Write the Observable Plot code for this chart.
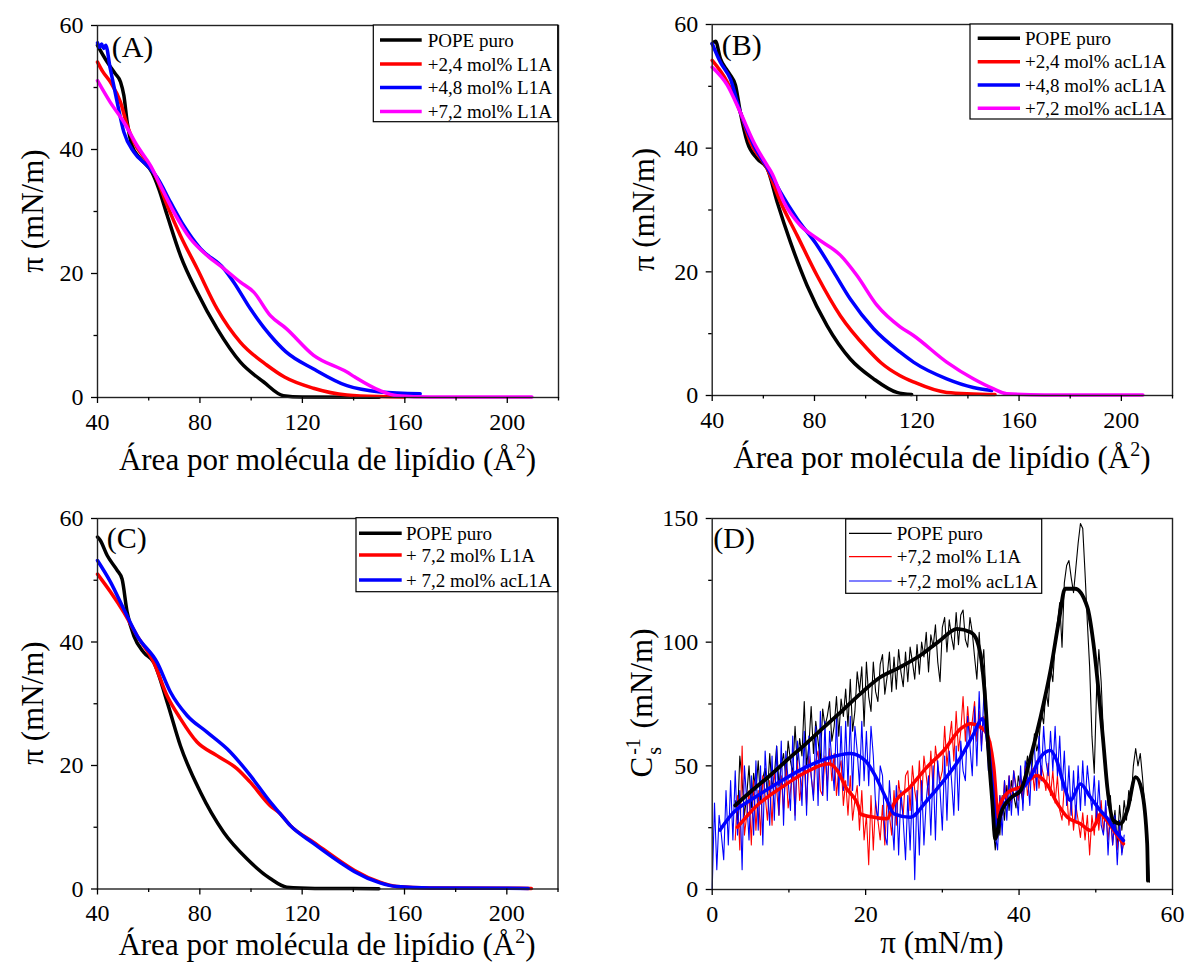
<!DOCTYPE html>
<html><head><meta charset="utf-8">
<script src="https://cdn.jsdelivr.net/npm/d3@7"></script>
<script src="https://cdn.jsdelivr.net/npm/@observablehq/plot@0.6"></script>
<style>
body{margin:0;background:#fff;}
#root{position:relative;width:1185px;height:964px;}
</style></head><body><div id="root"></div>
<script>
// ---------- Panel A : isotherms, L1A ----------
const A_pope = [[40,56.8],[43.8,54.1],[47,52.2],[49,50.9],[50.3,48.7],[51.6,44.4],[53.5,40.6],[56.8,38.5],[61.3,36.3],[63.9,33.7],[67.2,29.4],[72.4,22.9],[78.9,17],[86.7,11.1],[95.8,5.7],[104.9,2.5],[112.6,0.3],[120,0.1],[150,0.05]];
const A_l1a24 = [[40,54.1],[42,52.6],[45,50.9],[49,47.6],[51.6,43.9],[54.2,41.2],[59.4,38],[62.6,35.8],[67.2,31],[72.4,26.1],[78.9,20.8],[86.7,14.3],[95.8,8.9],[106.2,5.2],[113,3.3],[124.3,1.5],[137.4,0.4],[150,0.15],[160,0.1]];
const A_l1a48 = [[40,57.2],[40.8,56.5],[41.6,57],[42.4,56.3],[43.2,56.8],[45,53],[47.7,47.6],[50.3,42.8],[54.2,39.6],[59.4,37.4],[63.3,35.5],[68.5,31.5],[73.7,27.7],[80.2,24],[89.3,20.8],[93.2,18.6],[99.7,14.3],[107.5,10],[113.5,7.4],[124.4,4.6],[137.4,1.9],[150.4,0.9],[166,0.6]];
const A_l1a72 = [[40,51.1],[45,47.6],[50.3,44.4],[55.5,40.6],[60.7,37.4],[64.6,34.2],[69.8,29.9],[76.3,25.6],[82.8,22.9],[89.3,20.8],[95.8,18.6],[101,17],[107.5,13.2],[113.5,11.2],[124.4,6.8],[137.4,4.1],[140.5,3.3],[150.4,1.1],[157,0.3],[170,0.1],[209.6,0.1]];
const A_labels = ["POPE puro","+2,4 mol% L1A","+4,8 mol% L1A","+7,2 mol% L1A"];

// ---------- Panel B : isotherms, acL1A ----------
const B_pope = [[40,56.9],[41.3,57.3],[43.2,54.5],[45.5,52.8],[47.1,51.8],[49.1,50.2],[51,45.8],[53.7,41],[57.6,38.3],[61.5,36.7],[65.4,31.3],[70.6,24.8],[77.1,17.8],[84.9,11.3],[94,5.9],[103.1,2.7],[112.2,0.5],[118,0.15]];
const B_ac24 = [[40,54.2],[45.9,50.7],[51,45.8],[54.9,41],[61.5,36.7],[66.7,31.3],[73.2,25.9],[81,19.4],[90.1,12.9],[100.5,7.6],[106,5.3],[113.5,3.2],[118.7,2.2],[131.7,0.5],[150.6,0.15]];
const B_ac48 = [[40,56.9],[43.2,53.9],[47.1,51.2],[51,45.8],[56.2,40.5],[61.5,36.9],[66.7,32.9],[73.2,28.6],[81,24.3],[87.5,20],[94,15.6],[103.1,10.8],[113.5,7],[118.7,5.4],[131.7,2.7],[142.1,1.3],[149.3,0.8]];
const B_ac72 = [[40,53.1],[45.9,50.2],[51,45.8],[56.2,41],[61.5,37.2],[63.4,35.9],[68,31.3],[74.5,27.5],[81,25.4],[90.1,22.7],[96.6,19.4],[104.4,14.6],[113.5,11.1],[118.7,9.7],[131.7,5.4],[142.1,2.7],[149.9,1.1],[155.1,0.3],[170,0.1],[208.4,0.1]];
const B_labels = ["POPE puro","+2,4 mol% acL1A","+4,8 mol% acL1A","+7,2 mol% acL1A"];

// ---------- Panel C : comparison ----------
const C_pope = [[40,57],[41,56.5],[43.8,54],[47.7,51.6],[49.6,50.2],[51.6,44.8],[54.2,41],[58.1,38.3],[62,36.7],[67.2,30.3],[72.4,23.2],[80.2,15.7],[89.3,9.2],[98.4,4.9],[107.5,1.7],[114,0.3],[125,0.1],[150,0.05]];
const C_l1a72 = [[40,51],[45.1,48.1],[50.3,44.8],[55.5,41],[62,36.7],[67.2,31.3],[72.4,27.6],[78.9,23.8],[86.7,21.6],[94.5,19.5],[99.7,17.3],[107.5,13.5],[111.4,12.2],[115.3,10.3],[124.4,7.6],[137.4,3.8],[140.5,3],[150.4,1.1],[157,0.4],[170,0.15],[209.6,0.1]];
const C_ac72 = [[40,53.2],[45.1,49.7],[50.3,45.3],[55.5,41],[63.3,36.7],[68.5,31.9],[75,28.1],[82.8,25.4],[91.9,22.2],[99.7,18.4],[107.5,14.1],[111.4,12.2],[115.3,10.3],[124.4,7.4],[137.4,3.6],[140.5,2.8],[150.4,1.0],[157,0.4],[170,0.15],[208.4,0.1]];
const C_labels = ["POPE puro","+ 7,2 mol% L1A","+ 7,2 mol% acL1A"];

// ---------- Panel D : compressibility modulus ----------
const D_step = 0.3;
const D_popeStart = 3.0;
const D_popeRaw = [36,28,54,44,30,38,50,33,47,40, 52,36,45,49,38,55,41,46,58,42, 50,55,45,60,52,47,66,50,61,54, 76,50,58,74,55,68,60,52,73,66, 70,76,60,66,78,62,77,70,81,66, 85,64,72,88,80,90,66,92,78,72, 92,80,76,91,95,79,86,96,80,94, 81,97,88,82,96,84,98,92,85,99, 87,100,94,104,88,103,98,107,92,84, 106,110,96,109,102,97,112,99,111,113, 101,98,110,104,94,85,104,88,97,77, 58,42,26,16,30,22,38,28,42,32, 44,38,33,46,41,35,47,54,44,50, 63,56,60,72,67,81,74,90,84,100, 108,116,98,124,131,133,126,120,130,140, 148,146,128,108,90,62,47,80,97,84, 62,50,34,38,24,32,18,34,24,36, 28,40,36,50,57,50,55,45,33,20, 3];
const D_l1aStart = 3.0;
const D_l1aRaw = [20,38,16,58,22,30,40,18,44,24, 40,22,46,38,28,44,26,48,40,30, 46,32,50,33,40,48,30,52,36,44, 50,34,54,46,38,52,56,40,38,54, 42,57,44,55,38,48,52,34,44,30, 46,28,36,42,24,40,20,30,10,38, 16,36,28,20,34,18,36,30,22,40, 26,44,36,30,46,48,32,50,40,34, 52,36,54,46,38,56,40,58,50,44, 48,66,50,60,68,52,72,56,64,78, 60,74,62,68,76,60,72,58,70,66, 52,60,44,36,22,38,30,44,34,46, 35,48,42,36,46,37,50,38,44,49, 40,52,41,50,46,40,51,38,48,35, 46,32,28,42,40,26,36,24,34,28, 21,31,20,30,14,30,22,34,24,36, 23,33,20,30,18,28,16,25,15,20];
const D_acStart = 0.0;
const D_acRaw = [0,35,8,30,22,12,40,18,44,20, 48,22,40,8,50,36,20,46,22,52, 24,50,18,56,40,26,54,28,58,30, 60,26,56,44,32,62,28,60,50,34, 64,30,62,46,36,66,34,72,38,68, 36,64,52,40,70,38,66,40,68,42, 70,40,66,56,42,68,44,64,42,66, 54,34,28,50,46,22,18,44,30,16, 42,14,40,28,12,38,16,42,4,40, 14,44,18,36,46,22,50,20,52,40, 24,54,28,56,44,30,58,32,60,48, 44,70,58,46,74,50,80,56,78,72, 48,56,30,22,16,38,22,44,28,46, 30,48,40,30,50,32,52,46,34,56, 58,40,62,44,66,52,46,64,48,66, 46,62,40,56,34,50,30,48,28,50, 32,52,34,50,40,32,46,28,44,26, 22,36,14,32,18,30,10,28,14,22];
const D_popeSmooth = [[3,34],[5,39.5],[7.8,46.8],[10,53],[12.2,58.9],[14,64],[16.5,71],[19.3,79.1],[21.9,85.8],[24.5,89.9],[27.1,94.6],[29.7,100.7],[31.9,105.4],[33.7,104],[34.5,100.7],[35.2,89.9],[35.6,76.4],[36,56.2],[36.5,36],[36.9,20.5],[37.6,30.6],[38.9,37],[40.2,40],[41.5,53.5],[42.8,69.7],[44.1,88.6],[45.2,108.8],[46,121.6],[47.3,121.6],[48.9,114.2],[49.7,99.4],[50.4,79.1],[51,58.9],[51.5,41.4],[52.3,27.9],[53.2,26.6],[54.1,31.9],[55.2,45.4],[56,40],[56.7,18.5],[56.8,3.6]];
const D_l1aSmooth = [[3.3,25.2],[5.6,33.3],[9.1,41.4],[12.2,47.4],[15.2,50.8],[16.3,48.1],[17.4,41.4],[19.1,33.3],[19.3,30.6],[21.1,29.2],[22.8,28.6],[23.7,34.7],[25.8,41.4],[28,49.5],[30.2,56.2],[32.4,65],[33.7,67],[35,65.6],[35.8,63],[36.7,49.5],[37.3,29.2],[37.6,35],[38.9,40],[40.2,41.4],[41,43.4],[42.3,46.1],[43.6,42.7],[45,34.7],[46.3,29.2],[48,26.6],[49.3,23.9],[50.2,27.9],[50.6,30.6],[51.4,28],[52.8,21.8],[53.6,18.5]];
const D_acSmooth = [[1,24],[2.6,30.6],[5.6,37.3],[9.1,44.1],[12.2,49.5],[15,53],[18,55],[20,52],[21.1,46.8],[22.8,36],[23.7,30.6],[25.8,29.2],[28,36],[30.2,44.1],[32.4,53.5],[34.1,63],[35.2,69],[35.6,66],[36.5,42.7],[37.1,23.9],[37.8,33],[39.7,38.7],[40.2,40],[41.5,45.4],[42.8,53.5],[44.1,56.2],[44.9,52.2],[45.8,42.7],[46.7,36],[48,42.7],[49.3,37.3],[50.6,31.9],[51.4,29.2],[52.5,23.9],[53.6,19.8]];
const D_labels = ["POPE puro","+7,2 mol% L1A","+7,2 mol% acL1A"];

// ticks
const areaMajor = [40,80,120,160,200], areaMinor = [60,100,140,180,220];
const piMajor = [0,20,40,60], piMinor = [10,30,50];
const csMajor = [0,50,100,150], csMinor = [25,75,125];

const SERIF = '"Liberation Serif", "Times New Roman", serif';
const root = document.getElementById("root");
const toPairs = (start, raw) => raw.map((v, i) => [+(start + i * D_step).toFixed(2), v]);

function makePanel(cfg) {
  const ax = {fontFamily: SERIF, fontSize: 24, label: null, strokeWidth: 1.3};
  const svg = Plot.plot({
    width: 592, height: 482,
    marginLeft: cfg.m[0], marginTop: cfg.m[1], marginRight: cfg.m[2], marginBottom: cfg.m[3],
    x: {domain: cfg.xDomain},
    y: {domain: cfg.yDomain},
    style: {fontFamily: SERIF, fontSize: "24px", color: "#000", background: "transparent", overflow: "visible"},
    marks: [
      ...cfg.marks,
      Plot.frame({stroke: "#222", strokeWidth: 1.4}),
      Plot.axisX(cfg.xMinor, {...ax, tickSize: 3.5, tickFormat: () => ""}),
      Plot.axisX(cfg.xMajor, {...ax, tickSize: 6, tickPadding: 9}),
      Plot.axisY(cfg.yMinor, {...ax, tickSize: 3.5, tickFormat: () => ""}),
      Plot.axisY(cfg.yMajor, {...ax, tickSize: 6, tickPadding: 8})
    ]
  });
  svg.style.position = "absolute";
  svg.style.left = cfg.left + "px";
  svg.style.top = cfg.top + "px";
  root.appendChild(svg);
  return svg;
}

const ln = (data, color, w) => Plot.line(data, {x: d => d[0], y: d => d[1], stroke: color, strokeWidth: w, curve: "monotone-x"});
const lnLin = (data, color, w) => Plot.line(data, {x: d => d[0], y: d => d[1], stroke: color, strokeWidth: w, curve: "linear"});

function txt(svg, x, y, s, size, anchor) {
  return d3.select(svg).append("text").attr("x", x).attr("y", y)
    .attr("font-family", SERIF).attr("font-size", size).attr("fill", "#000")
    .attr("text-anchor", anchor || "start").text(s);
}
function yTitle(svg, bx, cy, s) {
  d3.select(svg).append("text").attr("transform", `translate(${bx},${cy}) rotate(-90)`)
    .attr("font-family", SERIF).attr("font-size", 31).attr("fill", "#000")
    .attr("text-anchor", "middle").text(s);
}
function xTitleArea(svg, cx, by) {
  const t = d3.select(svg).append("text").attr("x", cx).attr("y", by)
    .attr("font-family", SERIF).attr("font-size", 31).attr("fill", "#000").attr("text-anchor", "middle");
  t.append("tspan").text("Área por molécula de lipídio (Å");
  t.append("tspan").attr("dy", -12).attr("font-size", 20).text("2");
  t.append("tspan").attr("dy", 12).text(")");
}
function legend(svg, box, labels, colors, lx0, lx1, tx, rows, lw) {
  const g = d3.select(svg).append("g").attr("text-anchor", "start");
  g.append("rect").attr("x", box[0]).attr("y", box[1]).attr("width", box[2]).attr("height", box[3])
    .attr("fill", "#fff").attr("stroke", "#000").attr("stroke-width", 1.2);
  labels.forEach((l, i) => {
    g.append("line").attr("x1", lx0).attr("x2", lx1).attr("y1", rows[i]).attr("y2", rows[i])
      .attr("stroke", colors[i]).attr("stroke-width", lw);
    g.append("text").attr("x", tx).attr("y", rows[i] + 6.5).attr("font-family", SERIF)
      .attr("text-anchor", "start").attr("font-size", 19).attr("fill", "#000").text(l);
  });
}

const colors4 = ["#000000", "#ff0000", "#0000ff", "#ff00ff"];
const colors3 = ["#000000", "#ff0000", "#0000ff"];

// Panel A
const svgA = makePanel({
  left: 0, top: 0, m: [97, 25, 34, 85], xDomain: [40, 220], yDomain: [0, 60],
  xMajor: areaMajor, xMinor: areaMinor, yMajor: piMajor, yMinor: piMinor,
  marks: [ln(A_pope, colors4[0], 3.5), ln(A_l1a24, colors4[1], 3.5), ln(A_l1a48, colors4[2], 3.5), ln(A_l1a72, colors4[3], 3.5)]
});
txt(svgA, 111.7, 56.5, "(A)", 30);
legend(svgA, [373.3, 25, 184.4, 96.7], A_labels, colors4, 380, 421.7, 427.7, [40, 64, 87.5, 111.5], 3.5);
xTitleArea(svgA, 327.5, 470);
yTitle(svgA, 43, 211, "π (mN/m)");

// Panel B
const svgB = makePanel({
  left: 593, top: 0, m: [118.7, 24, 13, 87], xDomain: [40, 220], yDomain: [0, 60],
  xMajor: areaMajor, xMinor: areaMinor, yMajor: piMajor, yMinor: piMinor,
  marks: [ln(B_pope, colors4[0], 3.5), ln(B_ac24, colors4[1], 3.5), ln(B_ac48, colors4[2], 3.5), ln(B_ac72, colors4[3], 3.5)]
});
txt(svgB, 128.7, 55, "(B)", 30);
legend(svgB, [377, 24, 202, 95], B_labels, colors4, 384.7, 427, 432, [38.3, 61.7, 85, 108.3], 3.5);
xTitleArea(svgB, 348.9, 468);
yTitle(svgB, 61, 209.5, "π (mN/m)");

// Panel C
const svgC = makePanel({
  left: 0, top: 482, m: [97, 36, 34.5, 75.5], xDomain: [40, 220], yDomain: [0, 60],
  xMajor: areaMajor, xMinor: areaMinor, yMajor: piMajor, yMinor: piMinor,
  marks: [ln(C_pope, colors3[0], 3.5), ln(C_l1a72, colors3[1], 3.5), ln(C_ac72, colors3[2], 3.5)]
});
txt(svgC, 106.7, 66.3, "(C)", 30);
legend(svgC, [356, 35.7, 201.7, 74], C_labels, colors3, 359, 401.7, 406, [51.3, 73, 98], 3.5);
xTitleArea(svgC, 327, 473);
yTitle(svgC, 43, 221, "π (mN/m)");

// Panel D
const svgD = makePanel({
  left: 593, top: 482, m: [118.7, 36, 13, 75], xDomain: [0, 60], yDomain: [0, 150],
  xMajor: piMajor, xMinor: piMinor, yMajor: csMajor, yMinor: csMinor,
  marks: [
    lnLin(toPairs(D_popeStart, D_popeRaw), "#000", 1.1),
    lnLin(toPairs(D_l1aStart, D_l1aRaw), "#ff0000", 1.1),
    lnLin(toPairs(D_acStart, D_acRaw), "#0000ff", 1.1),
    ln(D_l1aSmooth, "#ff0000", 3.5),
    ln(D_acSmooth, "#0000ff", 3.5),
    ln(D_popeSmooth, "#000", 3.8)
  ]
});
txt(svgD, 120.3, 66.3, "(D)", 30);
legend(svgD, [252.7, 37, 196, 74.3], D_labels, colors3, 256, 298.7, 303.7, [51.3, 74.7, 99], 1.2);
txt(svgD, 348.9, 471, "π (mN/m)", 31, "middle");
// y title with stacked super/subscript
(function () {
  const g = d3.select(svgD).append("g").attr("font-family", SERIF).attr("fill", "#000").attr("text-anchor", "start");
  const c = g.append("text").attr("x", 0).attr("y", 0).attr("text-anchor", "start").attr("font-size", 31).text("C");
  const wC = c.node().getComputedTextLength();
  const sup = g.append("text").attr("x", wC + 2).attr("y", -12).attr("text-anchor", "start").attr("font-size", 20).text("-1");
  const sub = g.append("text").attr("x", wC + 2).attr("y", 9).attr("text-anchor", "start").attr("font-size", 20).text("s");
  const wS = Math.max(sup.node().getComputedTextLength(), sub.node().getComputedTextLength());
  const rest = g.append("text").attr("x", wC + 2 + wS + 2).attr("y", 0).attr("text-anchor", "start").attr("font-size", 31).text(" (mN/m)");
  const W = wC + 4 + wS + rest.node().getComputedTextLength();
  g.attr("transform", `translate(59,221) rotate(-90) translate(${-W / 2},0)`);
})();
</script></body></html>
